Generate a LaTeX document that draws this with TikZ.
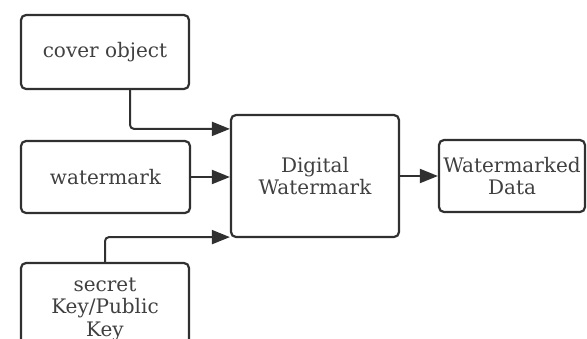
\documentclass[tikz,border=0pt]{standalone}
\usepackage{fontspec}
\setmainfont{DejaVu Serif}
\usetikzlibrary{arrows.meta}
\definecolor{boxline}{HTML}{303030}
\definecolor{boxtext}{HTML}{404040}

\begin{document}
\begin{tikzpicture}[x=1pt,y=-1pt,
  blok/.style={draw=boxline,line width=2.2pt,rounded corners=5pt,text=boxtext,
    font=\fontsize{20}{22.5}\selectfont,align=center,inner sep=0pt},
  feed/.style={draw=boxline,line width=2pt,rounded corners=4pt,
    -{Triangle[length=18pt,width=14pt]}}]
\useasboundingbox (0,0) rectangle (587,338);
% input boxes
\node[blok,minimum width=168pt,minimum height=74pt] (cover) at (105,52) {cover object};
\node[blok,minimum width=169pt,minimum height=72pt] (mark) at (105.5,177) {watermark};
\node[blok,minimum width=168pt,minimum height=92pt] (key) at (105,309) {secret\\Key/Public\\Key};
% middle and output
\node[blok,minimum width=168pt,minimum height=122pt] (digital) at (315,176) {Digital\\Watermark};
\node[blok,minimum width=146pt,minimum height=72pt] (data) at (512,176) {Watermarked\\Data};
% connectors
\draw[feed] ([xshift=25pt]cover.south) |- ([yshift=-15pt]digital.north west);
\draw[feed] (mark.east) -- (mark.east -| digital.west);
\draw[feed] (key.north) |- ([yshift=1pt]digital.south west);
\draw[feed] (digital) -- (data);
\end{tikzpicture}
\end{document}
